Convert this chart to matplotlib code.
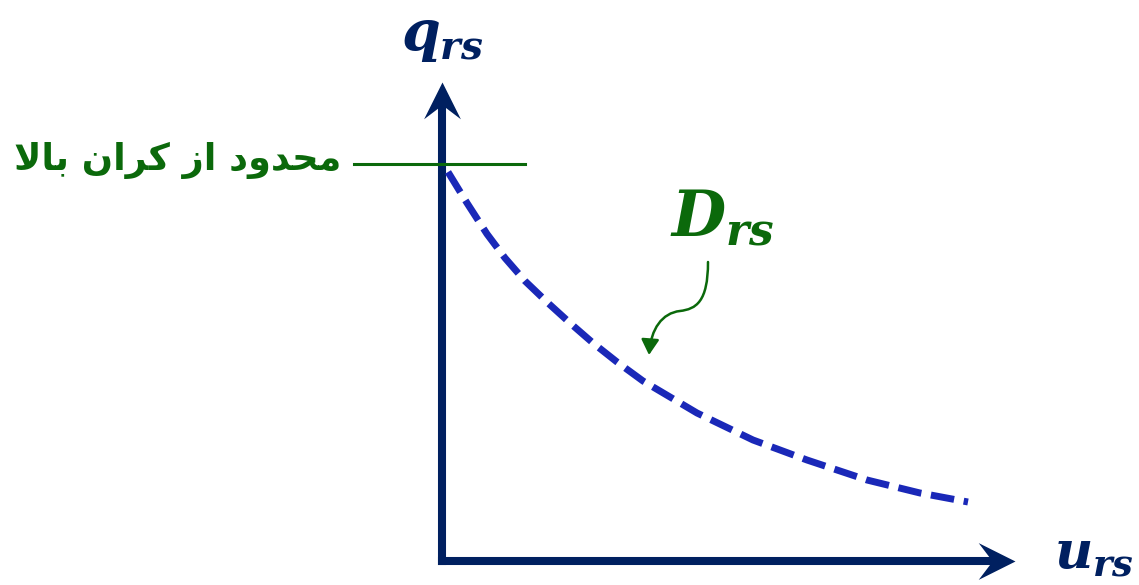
import numpy as np
import matplotlib
matplotlib.use("Agg")
import matplotlib.pyplot as plt
from matplotlib.path import Path
from matplotlib.markers import MarkerStyle
from matplotlib.patches import FancyArrowPatch
from matplotlib.transforms import Affine2D

plt.rcParams['mathtext.fontset'] = 'custom'
plt.rcParams['mathtext.it'] = 'DejaVu Serif:italic:bold'
plt.rcParams['mathtext.rm'] = 'DejaVu Serif:bold'

# demand curve D_rs (u on x, q on y), origin at the axes corner
u_vals = [6, 25, 45, 63, 83, 106, 128, 151, 175, 201, 255, 311, 365, 425, 478, 526]
q_vals = [389, 358, 327, 303, 280, 258, 238, 218, 199, 180, 148, 121, 101, 81, 68, 59]

q_upper = 397                      # upper bound level
bound_span = [-88, 83]
u_axis_end = 573
q_axis_end = 479

bound_label = "ﻻﺎﺑ ﻥﺍﺮﻛ ﺯﺍ ﺩﻭﺪﺤﻣ"    # محدود از کران بالا, shaped for LTR drawing

navy = '#002060'
blue = '#1a28b8'
green = '#0b690b'

fig = plt.figure(figsize=(11.39, 5.85), dpi=100)
ax = fig.add_axes([0, 0, 1, 1])
ax.set_xlim(-442, 697)
ax.set_ylim(-24, 561)
ax.axis('off')

# axes with stealth arrow heads
head = Path([(0, 0), (-1, 0.5), (-0.62, 0), (-1, -0.5), (0, 0)],
            [Path.MOVETO, Path.LINETO, Path.LINETO, Path.LINETO, Path.CLOSEPOLY])
ax.plot([0, u_axis_end - 20], [0, 0], color=navy, lw=5.8, solid_capstyle='projecting')
ax.plot([0, 0], [0, q_axis_end - 20], color=navy, lw=5.8, solid_capstyle='projecting')
ax.plot(u_axis_end, 0, marker=MarkerStyle(head), ms=53, color=navy, mew=0)
ax.plot(0, q_axis_end, marker=MarkerStyle(head, transform=Affine2D().rotate_deg(90)),
        ms=53, color=navy, mew=0)

# upper bound line
ax.plot(bound_span, [q_upper, q_upper], color=green, lw=2.2)
ax.text(-101, q_upper + 4, bound_label, color=green, fontsize=26.5, fontweight='bold',
        family='DejaVu Sans', ha='right', va='center')

# dashed demand curve
ax.plot(u_vals, q_vals, color=blue, lw=5, linestyle=(0, (3.4, 1.4)))

# labels
ax.text(0, 524, r'$q_{rs}$', color=navy, fontsize=40, ha='center', va='center')
ax.text(652, 8, r'$u_{rs}$', color=navy, fontsize=38, ha='center', va='center')
ax.text(280, 342, r'$D_{rs}$', color=green, fontsize=45, ha='center', va='center')

# pointer from D_rs to the curve
verts = [(266, 299), (266, 259), (254, 252), (238, 250),
         (220, 248), (209, 232), (207, 206)]
codes = [Path.MOVETO] + [Path.CURVE4] * 6
ax.add_patch(FancyArrowPatch(path=Path(verts, codes), arrowstyle='-|>,head_length=0.52,head_width=0.3',
                             mutation_scale=18, color=green, lw=1.8, shrinkA=0, shrinkB=0))

fig.savefig('out.png', dpi=100)
